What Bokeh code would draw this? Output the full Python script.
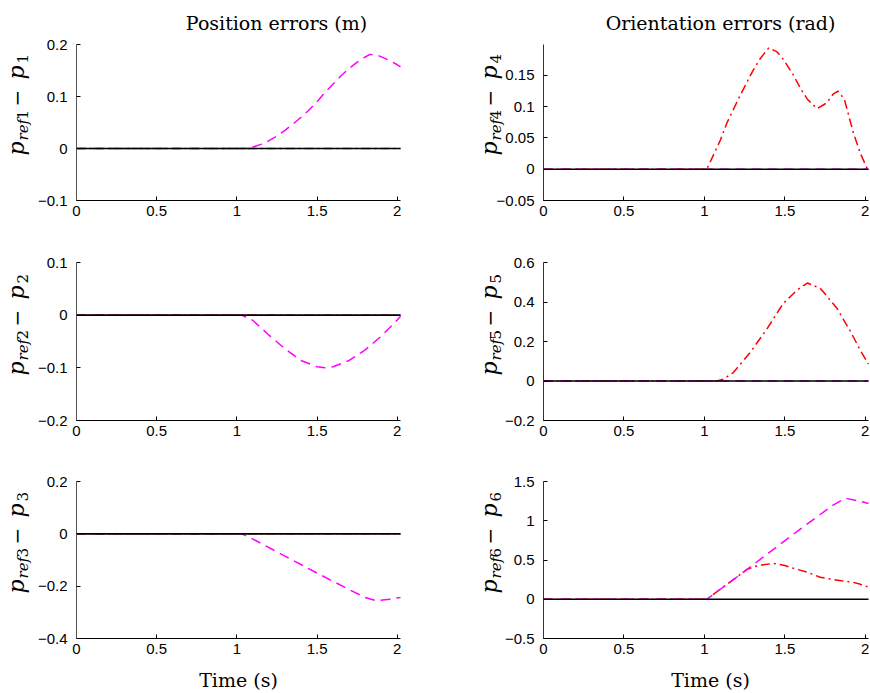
from math import pi
from bokeh.plotting import figure
from bokeh.layouts import gridplot
from bokeh.models import FixedTicker, LinearAxis
from bokeh.core.properties import value
from bokeh.embed import file_html
from bokeh.resources import INLINE

# ---------------- data ----------------
X_END = 2.02
x_ticks = [0, 0.5, 1, 1.5, 2]
x_tick_labels = ["0", "0.5", "1", "1.5", "2"]

zero_t = [0, 2.02]
zero_v = [0, 0]

# panel 1: p_ref1 - p1
p1_mag_t = [0, 1.05, 1.1, 1.15, 1.2, 1.25, 1.3, 1.35, 1.4, 1.45, 1.5, 1.55, 1.6, 1.65, 1.7, 1.75, 1.8, 1.83, 1.88, 1.94, 2.0, 2.02]
p1_mag_v = [0, 0, 0.003, 0.008, 0.015, 0.024, 0.035, 0.047, 0.06, 0.074, 0.09, 0.108, 0.124, 0.14, 0.154, 0.166, 0.176, 0.181, 0.179, 0.171, 0.161, 0.157]
p1_red_t = zero_t
p1_red_v = zero_v

# panel 2: p_ref2 - p2
p2_mag_t = [0, 1.03, 1.1, 1.2, 1.3, 1.4, 1.5, 1.55, 1.6, 1.7, 1.8, 1.9, 2.0, 2.02]
p2_mag_v = [0, 0, -0.01, -0.038, -0.064, -0.086, -0.098, -0.1, -0.098, -0.086, -0.066, -0.04, -0.009, -0.002]
p2_red_t = zero_t
p2_red_v = zero_v

# panel 3: p_ref3 - p3
p3_mag_t = [0, 1.03, 1.1, 1.3, 1.5, 1.7, 1.8, 1.87, 1.95, 2.02]
p3_mag_v = [0, 0, -0.02, -0.085, -0.15, -0.213, -0.243, -0.256, -0.25, -0.243]
p3_red_t = zero_t
p3_red_v = zero_v

# panel 4: p_ref4 - p4
p4_red_t = [0, 1.015, 1.1, 1.14, 1.22, 1.3, 1.35, 1.4, 1.45, 1.49, 1.55, 1.6, 1.64, 1.7, 1.76, 1.8, 1.83, 1.87, 1.925, 1.97, 2.01, 2.02]
p4_red_v = [0, 0, 0.047, 0.074, 0.117, 0.157, 0.178, 0.194, 0.188, 0.176, 0.152, 0.128, 0.112, 0.097, 0.106, 0.12, 0.125, 0.112, 0.059, 0.025, 0.002, 0]
p4_mag_t = zero_t
p4_mag_v = zero_v

# panel 5: p_ref5 - p5
p5_red_t = [0, 1.077, 1.12, 1.18, 1.285, 1.39, 1.49, 1.576, 1.64, 1.72, 1.825, 1.91, 1.97, 2.02]
p5_red_v = [0, 0, 0.01, 0.043, 0.145, 0.265, 0.393, 0.46, 0.496, 0.47, 0.367, 0.248, 0.154, 0.085]
p5_mag_t = zero_t
p5_mag_v = zero_v

# panel 6: p_ref6 - p6
p6_mag_t = [0, 1.015, 1.2, 1.4, 1.6, 1.8, 1.876, 1.97, 2.02]
p6_mag_v = [0, 0, 0.28, 0.59, 0.9, 1.2, 1.288, 1.247, 1.22]
p6_red_t = [0, 1.015, 1.1, 1.2, 1.265, 1.31, 1.35, 1.43, 1.5, 1.56, 1.64, 1.72, 1.85, 1.925, 1.97, 2.02]
p6_red_v = [0, 0, 0.13, 0.28, 0.38, 0.415, 0.435, 0.457, 0.43, 0.39, 0.344, 0.28, 0.235, 0.215, 0.19, 0.155]

y_ranges = [(-0.1, 0.2), (-0.2, 0.1), (-0.4, 0.2), (-0.05, 0.1995), (-0.2, 0.6), (-0.5, 1.5)]
y_ticks = [[-0.1, 0, 0.1, 0.2], [-0.2, -0.1, 0, 0.1], [-0.4, -0.2, 0, 0.2],
           [-0.05, 0, 0.05, 0.1, 0.15], [-0.2, 0, 0.2, 0.4, 0.6], [-0.5, 0, 0.5, 1, 1.5]]
y_tick_labels = [["\u22120.1", "0", "0.1", "0.2"], ["\u22120.2", "\u22120.1", "0", "0.1"],
                 ["\u22120.4", "\u22120.2", "0", "0.2"], ["\u22120.05", "0", "0.05", "0.1", "0.15"],
                 ["\u22120.2", "0", "0.2", "0.4", "0.6"], ["\u22120.5", "0", "0.5", "1", "1.5"]]
label_index = ["1", "2", "3", "4", "5", "6"]
col_titles = ["Position errors (m)", "Orientation errors (rad)"]
x_title = "Time (s)"

# ---------------- layout (pixels) ----------------
COL = [dict(width=450, left=76, right=50), dict(width=420, left=93, right=2)]
ROW = [dict(height=230, top=44, bottom=30), dict(height=220, top=32, bottom=30), dict(height=243, top=31, bottom=55)]

SERIF = "DejaVu Serif"
SANS = "Liberation Sans"


def make_panel(k, col, row, red_t, red_v, mag_t, mag_v):
    c, r = COL[col], ROW[row]
    y0, y1 = y_ranges[k]
    W = c["width"] - c["left"] - c["right"]
    H = r["height"] - r["top"] - r["bottom"]
    sx = X_END / W          # data per pixel (x)
    sy = (y1 - y0) / H      # data per pixel (y)

    p = figure(width=c["width"], height=r["height"],
               x_range=(-c["left"] * sx, X_END + c["right"] * sx),
               y_range=(y0 - r["bottom"] * sy, y1 + r["top"] * sy),
               x_axis_type=None, y_axis_type=None,
               output_backend="svg", toolbar_location=None, min_border=0)
    p.outline_line_color = None
    p.grid.visible = False
    p.background_fill_color = "white"
    p.border_fill_color = "white"

    xax = LinearAxis(fixed_location=y0, bounds=(0, X_END), ticker=FixedTicker(ticks=x_ticks))
    xax.major_label_overrides = {t: s for t, s in zip(x_ticks, x_tick_labels)}
    yax = LinearAxis(fixed_location=0, bounds=(y0, y1), ticker=FixedTicker(ticks=y_ticks[k]))
    yax.major_label_overrides = {t: s for t, s in zip(y_ticks[k], y_tick_labels[k])}
    for ax in (xax, yax):
        ax.major_tick_in = 4
        ax.major_tick_out = 0
        ax.minor_tick_line_color = None
        ax.major_label_text_font = SANS
        ax.major_label_text_font_size = "15px"
        ax.major_label_text_color = "black"
        ax.major_tick_line_color = "black"
    xax.axis_line_color = "black"
    yax.axis_line_color = "#555555" if col == 0 else "#333333"
    xax.major_label_standoff = 5
    yax.major_label_standoff = 9
    p.add_layout(xax, "below")
    p.add_layout(yax, "left")

    p.line(red_t, red_v, line_color="#ff0000", line_width=1.5, line_dash="9 4 2 4")
    p.line(mag_t, mag_v, line_color="#ff00ff", line_width=1.5, line_dash="10 6")
    p.line(zero_t, zero_v, line_color="black", line_width=1.7)

    def txt(s, px_x, px_y, size, style="normal", angle=0.0, align="left"):
        p.text(x=[px_x * sx], y=[y0 + px_y * sy], text=[s], angle=angle,
               text_font=value(SERIF), text_font_size=value(f"{size}px"),
               text_font_style=value(style), text_align=align,
               text_baseline="alphabetic", text_color="black")

    # y label: p_{ref k} - p_k  (rotated, reading upward)
    base = -60 if col == 0 else -54
    idx = label_index[k]
    ang = pi / 2
    txt("p", base, 45, 22, "italic", ang)
    txt("ref", base + 6, 60, 15, "italic", ang)
    txt(idx, base + 6, 81, 15, "normal", ang)
    txt("\u2212", base, 94, 20, "normal", ang)
    txt("p", base, 121, 22, "italic", ang)
    txt(idx, base + 6, 137, 15, "normal", ang)

    if row == 0:
        cx = 200 if col == 0 else 177
        txt(col_titles[col], cx, H + 22, 19, align="center")
    if row == 2:
        cx = 162 if col == 0 else 167
        txt(x_title, cx, -41, 19, align="center")
    return p


f1 = make_panel(0, 0, 0, p1_red_t, p1_red_v, p1_mag_t, p1_mag_v)
f2 = make_panel(1, 0, 1, p2_red_t, p2_red_v, p2_mag_t, p2_mag_v)
f3 = make_panel(2, 0, 2, p3_red_t, p3_red_v, p3_mag_t, p3_mag_v)
f4 = make_panel(3, 1, 0, p4_red_t, p4_red_v, p4_mag_t, p4_mag_v)
f5 = make_panel(4, 1, 1, p5_red_t, p5_red_v, p5_mag_t, p5_mag_v)
f6 = make_panel(5, 1, 2, p6_red_t, p6_red_v, p6_mag_t, p6_mag_v)

grid = gridplot([[f1, f4], [f2, f5], [f3, f6]], toolbar_location=None)

open("out.html", "w").write(file_html(grid, INLINE))
